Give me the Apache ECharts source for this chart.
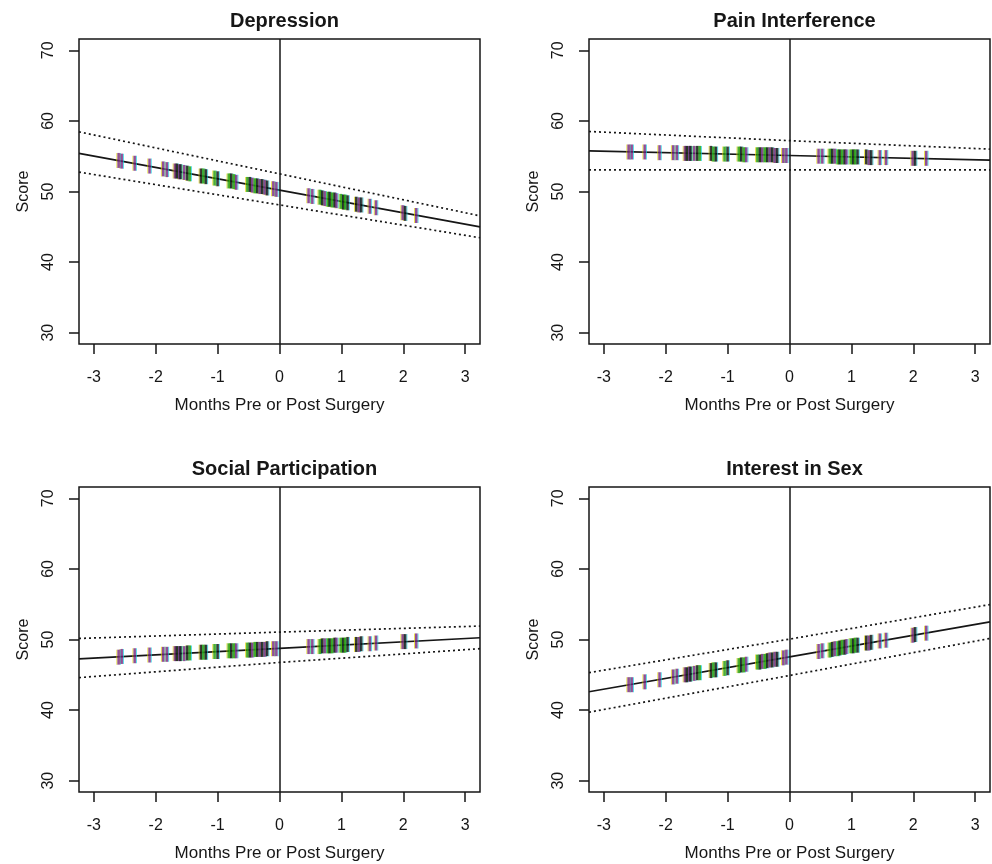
<!DOCTYPE html>
<html>
<head>
<meta charset="utf-8">
<script src="https://cdn.jsdelivr.net/npm/echarts@6/dist/echarts.min.js"></script>
<style>
html,body{margin:0;padding:0;background:#fff;}
#chart{width:992px;height:864px;}
</style>
</head>
<body>
<div id="chart"></div>
<script>
// ---------- DATA ----------
const panelTitles = ["Depression", "Pain Interference", "Social Participation", "Interest in Sex"];
const xTickValues = [-3, -2, -1, 0, 1, 2, 3];
const yTickValues = [30, 40, 50, 60, 70];

// x positions where fitted line / bands were read
const bandX = [-3.24, 0, 3.24];

const depressionFit   = [55.4, 50.2, 45.0];
const depressionUpper = [58.45, 52.5, 46.55];
const depressionLower = [52.75, 48.1, 43.45];

const painFit   = [55.75, 55.1, 54.45];
const painUpper = [58.5, 57.2, 56.0];
const painLower = [53.05, 53.05, 53.05];

const socialFit   = [47.25, 48.75, 50.25];
const socialUpper = [50.15, 51.05, 51.9];
const socialLower = [44.6, 46.75, 48.7];

const sexFit   = [42.6, 47.55, 52.5];
const sexUpper = [45.3, 50.05, 54.95];
const sexLower = [39.7, 44.9, 50.15];

// observation rug marks (months) and their group
const tickX = [-2.60, -2.55, -2.34, -2.10, -1.88, -1.82, -1.69, -1.66, -1.62, -1.60, -1.54, -1.49, -1.45,
  -1.27, -1.23, -1.19, -1.05, -1.00, -0.82, -0.78, -0.74, -0.70, -0.52, -0.48, -0.44, -0.40, -0.36,
  -0.32, -0.28, -0.24, -0.20, -0.10, -0.05, 0.47, 0.53, 0.65, 0.69, 0.73, 0.78, 0.81, 0.85, 0.89, 0.92,
  0.99, 1.03, 1.06, 1.10, 1.24, 1.28, 1.32, 1.46, 1.56, 1.99, 2.03, 2.21];
const tickGroup = ["P","P","P","P","P","P","P","K","P","K","P","K","G",
  "K","G","K","G","K","G","K","G","P","G","K","P","G","K",
  "P","K","P","K","P","P","P","P","G","K","P","G","K","G","K","P",
  "G","K","G","K","K","P","K","P","P","P","K","P"];

const depressionTickY = [54.4,54.3,54.0,53.6,53.2,53.1,52.9,52.9,52.8,52.8,52.7,52.6,52.5,
  52.2,52.2,52.1,51.9,51.8,51.5,51.5,51.4,51.3,51.0,51.0,50.9,50.8,50.8,
  50.7,50.7,50.6,50.5,50.4,50.3,49.4,49.3,49.2,49.1,49.0,48.9,48.9,48.8,48.8,48.7,
  48.6,48.5,48.5,48.4,48.2,48.1,48.1,47.9,47.7,47.0,46.9,46.6];
const painTickY = [55.6,55.6,55.6,55.5,55.5,55.5,55.4,55.4,55.4,55.4,55.4,55.4,55.4,
  55.4,55.3,55.3,55.3,55.3,55.3,55.3,55.2,55.2,55.2,55.2,55.2,55.2,55.2,
  55.2,55.2,55.1,55.1,55.1,55.1,55.0,55.0,55.0,55.0,55.0,54.9,54.9,54.9,54.9,54.9,
  54.9,54.9,54.9,54.9,54.9,54.8,54.8,54.8,54.8,54.7,54.7,54.7];
const socialTickY = [47.5,47.6,47.7,47.8,47.9,47.9,48.0,48.0,48.0,48.0,48.0,48.1,48.1,
  48.2,48.2,48.2,48.3,48.3,48.4,48.4,48.4,48.4,48.5,48.5,48.5,48.6,48.6,
  48.6,48.6,48.6,48.7,48.7,48.7,49.0,49.0,49.0,49.1,49.1,49.1,49.1,49.1,49.2,49.2,
  49.2,49.2,49.2,49.3,49.3,49.3,49.4,49.4,49.5,49.7,49.7,49.8];
const sexTickY = [43.6,43.6,44.0,44.3,44.7,44.8,45.0,45.0,45.1,45.1,45.2,45.3,45.3,
  45.6,45.7,45.7,45.9,46.0,46.3,46.4,46.4,46.5,46.8,46.8,46.9,46.9,47.0,
  47.1,47.1,47.2,47.2,47.4,47.5,48.3,48.4,48.5,48.6,48.7,48.7,48.8,48.9,48.9,49.0,
  49.1,49.1,49.2,49.2,49.5,49.5,49.6,49.8,49.9,50.6,50.7,50.9];

// ---------- BUILD ----------
const panels = [
  {fit: depressionFit, upper: depressionUpper, lower: depressionLower, ticks: depressionTickY},
  {fit: painFit, upper: painUpper, lower: painLower, ticks: painTickY},
  {fit: socialFit, upper: socialUpper, lower: socialLower, ticks: socialTickY},
  {fit: sexFit, upper: sexUpper, lower: sexLower, ticks: sexTickY}
];
const FONT = "'Liberation Sans', Arial, sans-serif";
const INK = "#161616";
const groupColor = {P: "#74237e", K: "#0c0c0c", G: "#1f9a08"};
const layout = [
  {left: 79, top: 39}, {left: 589, top: 39},
  {left: 79, top: 487}, {left: 589, top: 487}
];
const W = 401, H = 305;

const grids = [], xAxes = [], yAxes = [], titles = [], series = [];
const pair = (xs, ys) => xs.map((x, i) => [x, ys[i]]);

panels.forEach((p, i) => {
  const L = layout[i];
  grids.push({left: L.left, top: L.top, width: W, height: H, show: true,
    borderColor: INK, borderWidth: 1.5, backgroundColor: "transparent", containLabel: false});
  titles.push({text: panelTitles[i], left: L.left + W / 2, top: L.top - 33, textAlign: "center",
    textStyle: {fontFamily: FONT, fontSize: 20, fontWeight: "bold", color: INK}});
  xAxes.push({type: "value", gridIndex: i, min: -3.24, max: 3.24, position: "bottom",
    name: "Months Pre or Post Surgery", nameLocation: "middle", nameGap: 53,
    nameTextStyle: {fontFamily: FONT, fontSize: 17, color: INK},
    axisLine: {show: false, onZero: false}, splitLine: {show: false},
    axisTick: {show: true, inside: false, length: 10, customValues: xTickValues, lineStyle: {color: INK, width: 1.5}},
    axisLabel: {show: true, customValues: xTickValues, margin: 26, fontFamily: FONT, fontSize: 16, color: INK,
      formatter: v => String(v)}
  });
  yAxes.push({type: "value", gridIndex: i, min: 28.4, max: 71.6, position: "left",
    name: "Score", nameLocation: "middle", nameGap: 47, nameRotate: 90,
    nameTextStyle: {fontFamily: FONT, fontSize: 16, color: INK},
    axisLine: {show: false, onZero: false}, splitLine: {show: false},
    axisTick: {show: true, inside: false, length: 10, customValues: yTickValues, lineStyle: {color: INK, width: 1.5}},
    axisLabel: {show: true, customValues: yTickValues, rotate: 90, margin: 22, fontFamily: FONT, fontSize: 16, color: INK,
      formatter: v => String(v)}
  });

  // vertical line at surgery (x = 0) + fitted line
  series.push({type: "line", xAxisIndex: i, yAxisIndex: i, data: pair(bandX, p.fit),
    symbol: "none", silent: true, z: 3,
    lineStyle: {color: INK, width: 1.7, type: "solid"},
    markLine: {silent: true, symbol: "none", label: {show: false},
      lineStyle: {color: INK, width: 1.5, type: "solid"}, data: [{xAxis: 0}]}
  });
  [p.upper, p.lower].forEach(b => {
    series.push({type: "line", xAxisIndex: i, yAxisIndex: i, data: pair(bandX, b),
      symbol: "none", silent: true, z: 3,
      lineStyle: {color: INK, width: 1.7, type: [2, 3]}});
  });
  // rug marks: yellow and cyan fringes, then main colour
  const pts = pair(tickX, p.ticks);
  series.push({type: "scatter", xAxisIndex: i, yAxisIndex: i, data: pts, symbol: "rect",
    symbolSize: [1, 15], symbolOffset: [-1.75, 0], silent: true, z: 4,
    itemStyle: {color: "#e0d400", opacity: 0.7}});
  series.push({type: "scatter", xAxisIndex: i, yAxisIndex: i, data: pts, symbol: "rect",
    symbolSize: [1, 15], symbolOffset: [1.75, 0], silent: true, z: 4,
    itemStyle: {color: "#10d0e0", opacity: 0.7}});
  series.push({type: "scatter", xAxisIndex: i, yAxisIndex: i, symbol: "rect",
    symbolSize: [2.5, 15], silent: true, z: 5,
    data: pts.map((v, k) => ({value: v, itemStyle: {color: groupColor[tickGroup[k]]}}))});
});

const chart = echarts.init(document.getElementById("chart"), null, {renderer: "canvas"});
chart.setOption({
  animation: false,
  backgroundColor: "#ffffff",
  title: titles,
  grid: grids,
  xAxis: xAxes,
  yAxis: yAxes,
  series: series
});
</script>
</body>
</html>
